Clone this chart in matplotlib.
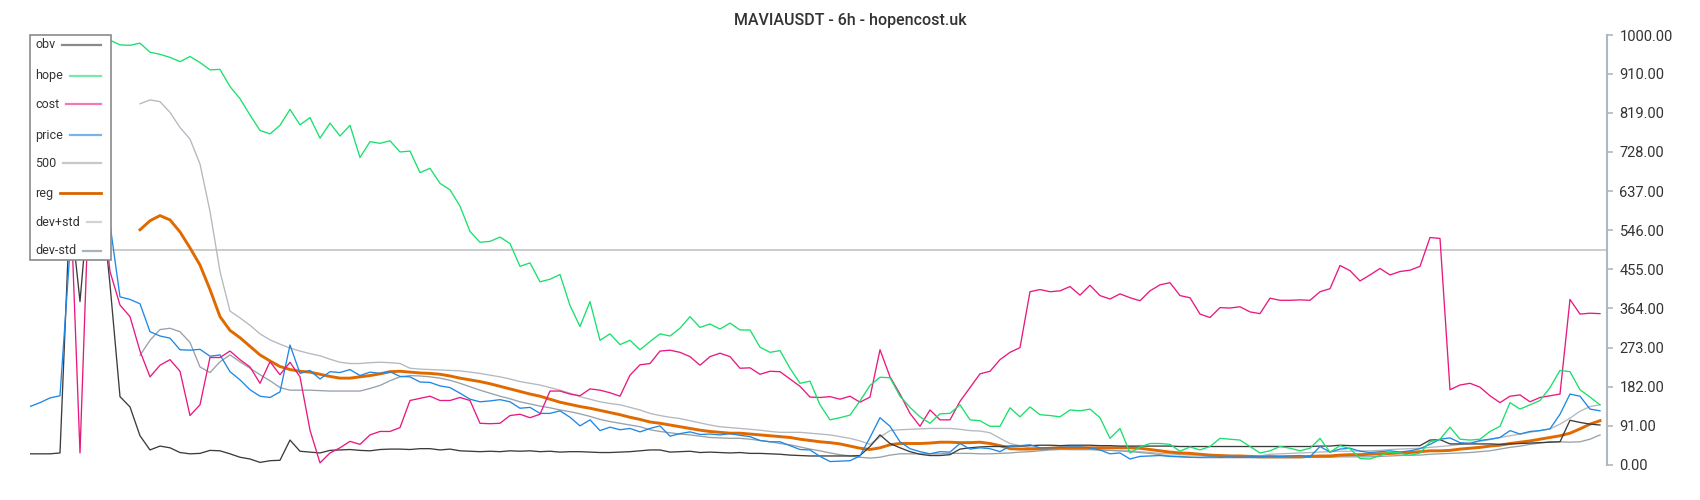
import numpy as np
import matplotlib
matplotlib.use("Agg")
import matplotlib.pyplot as plt
from matplotlib.patches import Rectangle
from matplotlib.lines import Line2D
from matplotlib.transforms import IdentityTransform

plt.rcParams['font.family'] = ['Roboto', 'DejaVu Sans']

nan = np.nan
title = "MAVIAUSDT - 6h - hopencost.uk"
threshold = 500
yticks = [0, 91, 182, 273, 364, 455, 546, 637, 728, 819, 910, 1000]

obv = [26, 26, 26, 28, 600, 380, 650, 650, 420, 159,
       135, 68, 35, 44, 40, 29, 26, 27, 34, 33,
       26, 18, 14, 6, 10, 11, 58, 32, 30, 28,
       34, 35, 36, 34, 33, 36, 37, 37, 36, 38,
       38, 35, 37, 33, 32, 31, 32, 31, 33, 32,
       33, 31, 32, 30, 31, 31, 30, 29, 29, 30,
       31, 33, 35, 35, 30, 31, 32, 29, 30, 29,
       28, 29, 27, 27, 26, 25, 23, 22, 21, 21,
       21, 21, 21, 22, 43, 70, 50, 40, 31, 25,
       22, 22, 24, 37, 40, 42, 43, 43, 44, 44,
       45, 46, 46, 45, 46, 46, 46, 45, 45, 44,
       44, 44, 44, 44, 44, 43, 43, 43, 43, 43,
       43, 43, 43, 43, 43, 43, 43, 43, 43, 44,
       44, 46, 45, 45, 45, 45, 45, 45, 45, 45,
       58, 59, 49, 49, 49, 49, 49, 48, 49, 50,
       51, 52, 53, 54, 104, 99, 95, 93]

hope = [nan, nan, nan, nan, nan, nan, nan, 995, 988, 977,
        976, 981, 960, 955, 948, 938, 950, 936, 919, 920,
        880, 852, 814, 778, 770, 790, 827, 791, 808, 760,
        795, 765, 790, 715, 752, 748, 754, 728, 730, 680,
        690, 655, 640, 602, 543, 518, 520, 530, 515, 462,
        470, 426, 432, 443, 371, 322, 380, 290, 305, 280,
        290, 268, 287, 305, 300, 318, 345, 320, 328, 316,
        330, 314, 314, 274, 262, 266, 225, 190, 195, 140,
        105, 110, 116, 149, 185, 204, 203, 160, 134, 112,
        97, 119, 120, 140, 105, 103, 90, 90, 133, 112,
        135, 117, 115, 112, 128, 126, 130, 110, 62, 85,
        28, 42, 50, 50, 48, 32, 42, 35, 43, 62,
        60, 58, 43, 28, 33, 43, 39, 33, 39, 62,
        30, 45, 38, 15, 14, 22, 30, 28, 22, 28,
        54, 60, 88, 60, 58, 60, 78, 90, 145, 130,
        140, 150, 180, 220, 217, 175, 158, 140]

cost = [nan, nan, nan, nan, 650, 28, 700, 650, 450, 372,
        345, 265, 205, 232, 245, 218, 115, 140, 250, 250,
        265, 245, 228, 190, 240, 210, 239, 205, 81, 5,
        28, 40, 55, 48, 70, 78, 78, 87, 150, 155,
        160, 150, 150, 157, 150, 97, 96, 97, 115, 118,
        110, 118, 172, 172, 165, 161, 177, 174, 168, 160,
        209, 233, 236, 265, 267, 262, 252, 232, 252, 260,
        252, 225, 226, 211, 218, 217, 200, 183, 158, 157,
        159, 153, 160, 146, 158, 268, 205, 165, 120, 90,
        128, 105, 105, 148, 180, 212, 218, 245, 262, 273,
        403, 408, 403, 405, 415, 395, 418, 394, 386, 398,
        389, 382, 405, 419, 424, 394, 389, 351, 343, 366,
        365, 368, 356, 352, 388, 383, 383, 384, 383, 403,
        410, 464, 452, 428, 442, 457, 442, 450, 453, 462,
        529, 527, 175, 186, 190, 181, 161, 145, 160, 163,
        147, 157, 161, 165, 385, 351, 353, 352]

price = [136, 145, 156, 161, 500, 700, 700, 700, 560, 391,
         385, 375, 310, 300, 295, 268, 267, 269, 253, 256,
         217, 198, 175, 160, 157, 170, 279, 213, 220, 200,
         217, 215, 222, 208, 216, 213, 217, 206, 205, 193,
         192, 184, 180, 167, 153, 147, 149, 152, 147, 132,
         134, 120, 120, 126, 111, 91, 105, 80, 88, 82,
         85, 77, 85, 91, 67, 73, 77, 71, 72, 70,
         73, 69, 66, 57, 54, 54, 45, 36, 35, 20,
         8, 9, 10, 21, 64, 110, 90, 54, 38, 31,
         26, 31, 30, 50, 37, 40, 38, 31, 44, 45,
         47, 40, 40, 41, 42, 42, 40, 35, 26, 28,
         14, 20, 21, 22, 20, 19, 18, 18, 19, 18,
         19, 18, 19, 19, 21, 20, 21, 22, 19, 43,
         30, 37, 39, 32, 29, 31, 33, 30, 33, 38,
         48, 60, 63, 52, 50, 57, 60, 64, 80, 72,
         78, 80, 84, 118, 165, 160, 130, 126]

reg = [nan] * 11 + [
       547, 568, 580, 570, 542, 505, 465, 408, 345,
       313, 296, 276, 256, 242, 229, 222, 218, 216, 211,
       206, 202, 202, 205, 208, 212, 217, 218, 216, 214,
       213, 211, 207, 202, 198, 194, 189, 183, 177, 171,
       165, 160, 153, 146, 141, 136, 132, 127, 122, 117,
       111, 106, 100, 97, 93, 89, 85, 81, 78, 76,
       74, 74, 72, 70, 68, 66, 64, 60, 57, 54,
       52, 49, 44, 39, 36, 40, 47, 50, 50, 50,
       51, 53, 53, 52, 52, 53, 50, 45, 38, 37,
       37, 38, 39, 40, 40, 40, 40, 40, 40, 40,
       40, 39, 36, 33, 30, 28, 27, 25, 23, 22,
       21, 21, 20, 19, 19, 19, 19, 19, 20, 21,
       21, 23, 24, 24, 25, 26, 27, 28, 29, 31,
       33, 33, 34, 37, 39, 41, 44, 46, 50, 53,
       56, 60, 64, 68, 74, 84, 95, 103]

dev_up = [nan] * 11 + [
          840, 849, 845, 820, 785, 758, 700, 590, 450,
          358, 342, 325, 305, 291, 281, 272, 265, 259, 254,
          246, 239, 236, 236, 238, 239, 238, 236, 225, 223,
          222, 221, 220, 219, 216, 213, 209, 205, 200, 194,
          190, 186, 180, 174, 167, 159, 153, 147, 143, 140,
          134, 128, 120, 115, 111, 108, 103, 98, 93, 89,
          87, 85, 83, 81, 78, 76, 76, 76, 74, 72,
          70, 66, 62, 56, 48, 65, 80, 82, 83, 84,
          85, 85, 85, 83, 80, 79, 75, 62, 50, 45,
          40, 39, 37, 37, 36, 36, 36, 35, 34, 33,
          33, 31, 29, 27, 26, 24, 23, 23, 23, 22,
          22, 21, 21, 21, 25, 26, 27, 28, 29, 30,
          31, 32, 32, 33, 33, 34, 36, 37, 38, 39,
          41, 43, 45, 48, 52, 55, 59, 64, 68, 72,
          76, 80, 84, 95, 109, 125, 136, 140]

dev_dn = [nan] * 11 + [
          255, 290, 315, 318, 310, 285, 228, 215, 240,
          256, 240, 225, 210, 196, 180, 174, 174, 174, 173,
          172, 172, 172, 172, 178, 185, 196, 205, 208, 207,
          205, 202, 197, 190, 182, 174, 167, 160, 154, 147,
          142, 137, 133, 128, 124, 119, 113, 106, 101, 97,
          93, 89, 82, 78, 75, 72, 70, 67, 64, 63,
          62, 62, 60, 57, 54, 50, 47, 42, 37, 33,
          28, 24, 21, 18, 16, 18, 23, 26, 26, 26,
          26, 26, 27, 27, 27, 26, 26, 27, 28, 30,
          31, 33, 35, 36, 36, 36, 36, 35, 34, 33,
          31, 29, 27, 24, 21, 20, 18, 17, 17, 17,
          17, 17, 17, 17, 17, 17, 17, 17, 18, 18,
          18, 19, 19, 19, 19, 20, 21, 22, 23, 23,
          25, 26, 27, 28, 29, 31, 33, 37, 41, 44,
          48, 51, 54, 54, 53, 54, 60, 70]

idx = np.arange(len(price))

W, H = 1700, 500
fig = plt.figure(figsize=(W / 100, H / 100), dpi=100)
ax = fig.add_axes([30 / W, 35 / H, 1577 / W, 430 / H])

C_OBV = '#3c3c3c'
C_HOPE = '#19e06c'
C_COST = '#e8197f'
C_PRICE = '#1e88e5'
C_500 = '#c8c8c8'
C_REG = '#e06a00'
C_UP = '#b2b9c0'
C_DN = '#98a1aa'

ax.axhline(threshold, color=C_500, lw=1.3, zorder=1)
ax.plot(idx, dev_up, color=C_UP, lw=0.95, zorder=2)
ax.plot(idx, dev_dn, color=C_DN, lw=0.95, zorder=2)
ax.plot(idx, reg, color=C_REG, lw=2.1, zorder=3)
ax.plot(idx, obv, color=C_OBV, lw=0.95, zorder=4)
ax.plot(idx, price, color=C_PRICE, lw=0.95, zorder=4)
ax.plot(idx, cost, color=C_COST, lw=0.95, zorder=5)
ax.plot(idx, hope, color=C_HOPE, lw=0.95, zorder=5)

ax.set_xlim(0, len(idx) - 1 + 0.7)
ax.set_ylim(0, 1000)
ax.set_xticks([])
ax.yaxis.tick_right()
ax.set_yticks(yticks)
ax.set_yticklabels([f"{t:.2f}" for t in yticks])
ax.tick_params(axis='y', length=4, width=1.2, color='#b0b8bf', pad=5,
               labelsize=10.5, labelcolor='#333333')
for s in ['left', 'top', 'bottom']:
    ax.spines[s].set_visible(False)
ax.spines['right'].set_color('#b0b8bf')
ax.spines['right'].set_linewidth(1.5)

fig.text(0.5, 1 - 21 / H, title, ha='center', va='center', fontsize=11.5,
         color='#333333', fontweight='medium')

# custom legend (text first, line filling to right edge)
box_l, box_t, box_r, box_b = 30, 35, 111, 260
fig.add_artist(Rectangle((box_l / W, 1 - box_b / H), (box_r - box_l) / W,
                         (box_b - box_t) / H, transform=fig.transFigure,
                         facecolor='white', edgecolor='#8a8a8a', lw=1.2, zorder=10))
labels = ['obv', 'hope', 'cost', 'price', '500', 'reg', 'dev+std', 'dev-std']
lcolors = ['#8a8a8a', '#7de8a6', '#f07ab6', '#7ab4ee', '#c8c8c8', '#d96500', '#d0d4d8', '#aab2ba']
lwidths = [1.6, 1.6, 1.6, 1.6, 1.6, 2.0, 1.6, 1.6]
ys = [45, 76, 104, 135, 163, 193, 222, 251]
texts = []
for lab, y in zip(labels, ys):
    t = fig.text(35 / W, 1 - y / H, lab, ha='left', va='center', fontsize=9,
                 fontstretch='normal', color='#333333', zorder=11)
    texts.append(t)
fig.canvas.draw()
r = fig.canvas.get_renderer()
for t, y, c, lw in zip(texts, ys, lcolors, lwidths):
    bb = t.get_window_extent(r)
    x0 = bb.x1 + 7
    fig.add_artist(Line2D([x0, 101], [H - y, H - y], transform=IdentityTransform(),
                          color=c, lw=lw, zorder=11))

fig.savefig('out.png', dpi=100)
